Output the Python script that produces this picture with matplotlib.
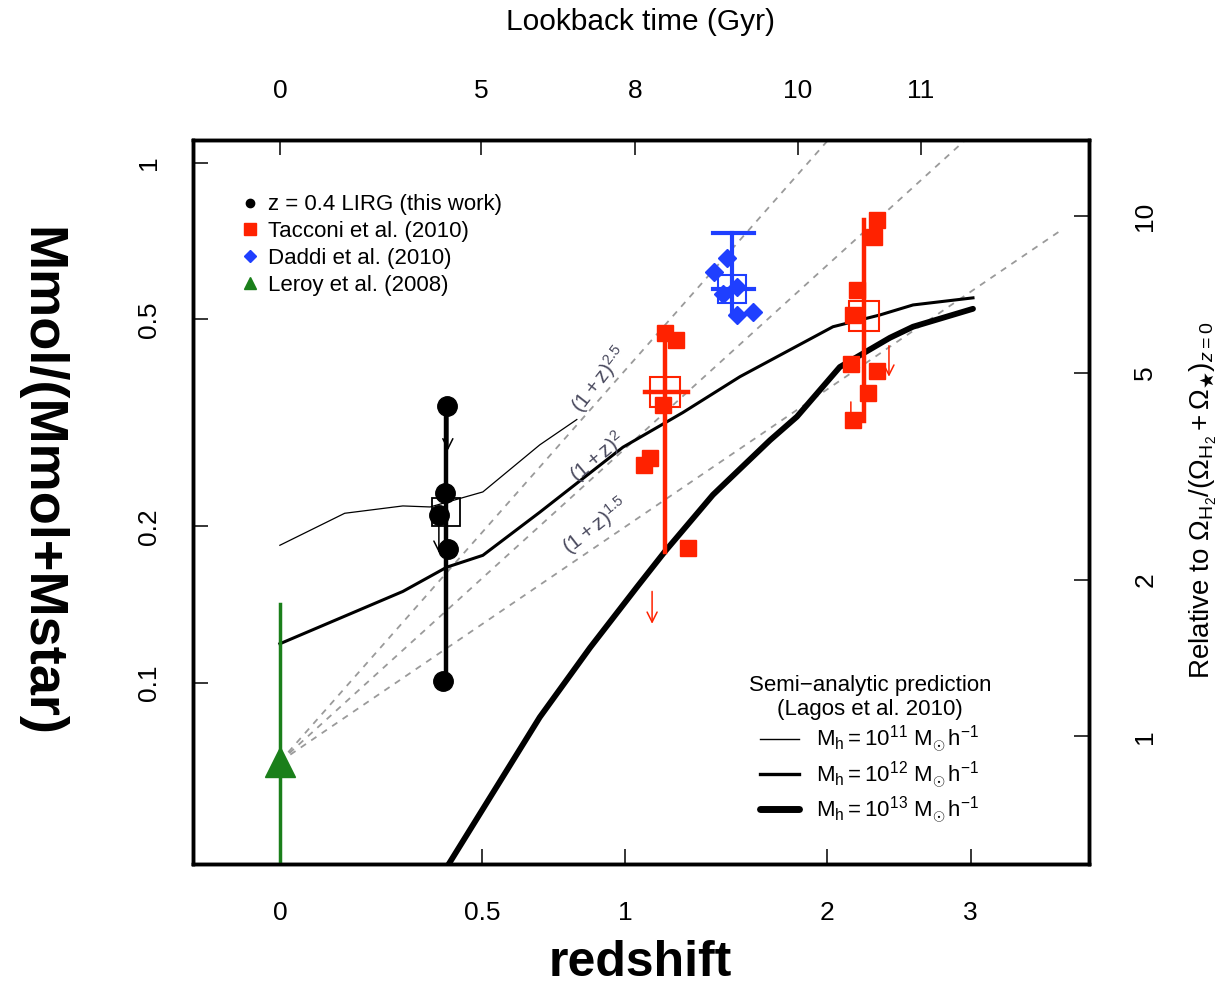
import numpy as np
import matplotlib.pyplot as plt
from matplotlib.lines import Line2D
from matplotlib.ticker import NullLocator

plt.rcParams['font.family'] = ['Liberation Sans', 'DejaVu Sans']
plt.rcParams['mathtext.fontset'] = 'custom'
plt.rcParams['mathtext.rm'] = 'Liberation Sans'
plt.rcParams['mathtext.it'] = 'Liberation Sans:italic'
plt.rcParams['mathtext.bf'] = 'Liberation Sans:bold'
plt.rcParams['mathtext.sf'] = 'Liberation Sans'

#---------------------- data ----------------------
# z = 0.4 LIRGs (this work)
lirg_z = [0.398, 0.393, 0.376, 0.401, 0.387]
lirg_f = [0.341, 0.232, 0.210, 0.181, 0.101]
lirg_med = (0.396, 0.213)
lirg_range = (0.101, 0.341)
lirg_lim_z = [0.401, 0.376]
lirg_lim_top = [0.330, 0.205]
lirg_lim_bot = [0.280, 0.178]

# Tacconi et al. (2010), z ~ 1.2
tac1_z = [1.166, 1.214, 1.158, 1.102, 1.076, 1.268]
tac1_f = [0.471, 0.457, 0.342, 0.271, 0.263, 0.182]
tac1_med = (1.166, 0.363)
tac1_range = (0.179, 0.471)
tac1_zrange = (1.080, 1.268)
tac1_lim_z = [1.111]
tac1_lim_top = [0.150]
tac1_lim_bot = [0.130]

# Tacconi et al. (2010), z ~ 2.3
tac2_z = [2.315, 2.296, 2.185, 2.159, 2.146, 2.315, 2.256, 2.159]
tac2_f = [0.777, 0.721, 0.570, 0.510, 0.411, 0.398, 0.361, 0.321]
tac2_med = (2.230, 0.508)
tac2_range = (0.319, 0.777)
tac2_lim_z = [2.396, 2.146]
tac2_lim_top = [0.445, 0.347]
tac2_lim_bot = [0.388, 0.307]

# Daddi et al. (2010), z ~ 1.5
dad_z = [1.453, 1.389, 1.503, 1.433, 1.503, 1.585]
dad_f = [0.657, 0.617, 0.577, 0.560, 0.510, 0.517]
dad_med = (1.478, 0.573)
dad_range = (0.510, 0.733)
dad_zrange = (1.385, 1.590)

# Leroy et al. (2008), z = 0
ler_z = 0.0
ler_f = 0.0706
ler_range = (0.03, 0.142)

# (1+z)^n scalings from the z=0 value
powers = [2.5, 2.0, 1.5]
pow_z = [0.0, 3.8]
pow_label_z = [0.901, 0.893, 0.882]
pow_label_f = [0.383, 0.271, 0.200]
pow_label_rot = [52, 40, 38]

# Lagos et al. (2010) semi-analytic predictions
m11_z = [0, 0.139, 0.280, 0.352, 0.503, 0.685, 0.815]
m11_f = [0.184, 0.212, 0.219, 0.218, 0.233, 0.287, 0.321]
m12_z = [0, 0.280, 0.398, 0.503, 0.685, 0.991, 1.245, 1.518, 2.035, 2.336, 2.564, 3.020]
m12_f = [0.119, 0.150, 0.167, 0.176, 0.213, 0.284, 0.331, 0.388, 0.484, 0.510, 0.533, 0.550]
m13_z = [0.393, 0.685, 0.864, 1.048, 1.166, 1.385, 1.675, 1.823, 2.077, 2.403, 2.564, 3.020]
m13_f = [0.0437, 0.0860, 0.117, 0.153, 0.179, 0.230, 0.293, 0.325, 0.405, 0.461, 0.484, 0.524]

# axes
z_ticks = [0, 0.5, 1, 2, 3]
z_ticklabels = ['0', '0.5', '1', '2', '3']
lookback_z = [0.0, 0.497, 1.040, 1.829, 2.622]
lookback_labels = ['0', '5', '8', '10', '11']
f_ticks = [0.1, 0.2, 0.5, 1]
f_ticklabels = ['0.1', '0.2', '0.5', '1']
rel_ticks = [1, 2, 5, 10]
rel_norm = 0.079
xlim = (-0.160, 4.074)
ylim = (0.0449, 1.106)

red = '#ff2200'
blue = '#1f3fff'
green = '#1a7f1a'
grey = '#9a9a9a'

def fwd(z):
    return np.log10(1 + np.asarray(z, dtype=float))

def inv(u):
    return 10 ** np.asarray(u, dtype=float) - 1

#---------------------- figure ----------------------
fig = plt.figure(figsize=(12.25, 9.89), dpi=100)
ax = fig.add_axes([193/1225, 1-864/989, 896/1225, 724/989])
ax.set_xscale('function', functions=(fwd, inv))
ax.set_yscale('log')

# power-law guide lines
for p, lz, lf, rot in zip(powers, pow_label_z, pow_label_f, pow_label_rot):
    zz = np.array(pow_z)
    ax.plot(zz, ler_f * (1 + zz) ** p, ls=(0, (3.5, 3.5)), color=grey, lw=1.3, zorder=1)
    lab = r'$\mathrm{(1+z)^{%s}}$' % ('2' if p == 2 else str(p))
    ax.text(lz, lf, lab, rotation=rot, color='#4a4a5e', fontsize=15,
            ha='center', va='center', rotation_mode='anchor')

# model curves
ax.plot(m11_z, m11_f, color='black', lw=0.9, zorder=2)
ax.plot(m12_z, m12_f, color='black', lw=2.2, zorder=2)
ax.plot(m13_z, m13_f, color='black', lw=4.2, zorder=2, solid_capstyle='round')

# Leroy
ax.plot([ler_z, ler_z], ler_range, color=green, lw=2.5, zorder=3)
ax.plot(ler_z, ler_f, ls='none', marker='^', ms=21, color=green, zorder=4)

# LIRGs
ax.plot([lirg_med[0]] * 2, lirg_range, color='black', lw=3.2, zorder=3)
ax.plot(lirg_z, lirg_f, ls='none', marker='o', ms=14, color='black', zorder=4)
ax.plot(*lirg_med, ls='none', marker='s', ms=20, mfc='none', mec='black', mew=1.3, zorder=5)

# Tacconi z~1.2
ax.plot([tac1_med[0]] * 2, tac1_range, color=red, lw=3.2, zorder=3)
ax.plot(tac1_zrange, [tac1_med[1]] * 2, color=red, lw=3.2, zorder=3)
ax.plot(tac1_z, tac1_f, ls='none', marker='s', ms=11, color=red, zorder=4)
ax.plot(*tac1_med, ls='none', marker='s', ms=21, mfc='none', mec=red, mew=1.5, zorder=5)

# Tacconi z~2.3
ax.plot([tac2_med[0]] * 2, tac2_range, color=red, lw=3.2, zorder=3)
ax.plot(tac2_z, tac2_f, ls='none', marker='s', ms=11, color=red, zorder=4)
ax.plot(*tac2_med, ls='none', marker='s', ms=21, mfc='none', mec=red, mew=1.5, zorder=5)

# Daddi
ax.plot([dad_med[0]] * 2, dad_range, color=blue, lw=3, zorder=3)
ax.plot(dad_zrange, [dad_range[1]] * 2, color=blue, lw=3, zorder=3)
ax.plot(dad_zrange, [dad_med[1]] * 2, color=blue, lw=3, zorder=3)
ax.plot(dad_z, dad_f, ls='none', marker='D', ms=9, color=blue, zorder=4)
ax.plot(*dad_med, ls='none', marker='s', ms=20, mfc='none', mec=blue, mew=1.5, zorder=5)

# upper limits
for zs, tops, bots, c in [(lirg_lim_z, lirg_lim_top, lirg_lim_bot, 'black'),
                          (tac1_lim_z, tac1_lim_top, tac1_lim_bot, red),
                          (tac2_lim_z, tac2_lim_top, tac2_lim_bot, red)]:
    for z, t, b in zip(zs, tops, bots):
        ax.annotate('', xy=(z, b), xytext=(z, t),
                    arrowprops=dict(arrowstyle='->', color=c, lw=1.1,
                                    mutation_scale=18, shrinkA=0, shrinkB=0),
                    zorder=6)

ax.set_xlim(*xlim)
ax.set_ylim(*ylim)
ax.set_xticks(z_ticks, z_ticklabels)
ax.set_yticks(f_ticks, f_ticklabels)
ax.xaxis.set_minor_locator(NullLocator())
ax.yaxis.set_minor_locator(NullLocator())
ax.tick_params(axis='both', direction='in', length=11, width=1.1, labelsize=19)
ax.tick_params(axis='x', pad=27)
ax.tick_params(axis='y', pad=23, labelrotation=90)
for t in ax.get_yticklabels():
    t.set_va('center')

# top axis: lookback time
axt = ax.twiny()
axt.set_xscale('function', functions=(fwd, inv))
axt.set_xlim(*xlim)
axt.set_xticks(lookback_z, lookback_labels)
axt.xaxis.set_minor_locator(NullLocator())
axt.tick_params(axis='x', direction='in', length=11, width=1.1, labelsize=19, pad=27)

# right axis: relative to z=0
axr = ax.twinx()
axr.set_yscale('log')
axr.set_ylim(ylim[0] / rel_norm, ylim[1] / rel_norm)
axr.set_yticks(rel_ticks, [str(r) for r in rel_ticks])
axr.yaxis.set_minor_locator(NullLocator())
axr.tick_params(axis='y', direction='in', length=11, width=1.1, labelsize=19, pad=32,
                labelrotation=90)
for t in axr.get_yticklabels():
    t.set_va('center')

for a in (ax, axt, axr):
    for s in a.spines.values():
        s.set_linewidth(2.4)

# legends
h1 = [Line2D([], [], ls='none', marker='o', color='black', ms=6),
      Line2D([], [], ls='none', marker='s', color=red, ms=8),
      Line2D([], [], ls='none', marker='D', color=blue, ms=6),
      Line2D([], [], ls='none', marker='^', color=green, ms=9)]
l1 = axr.legend(h1, ['z = 0.4 LIRG (this work)', 'Tacconi et al. (2010)',
                     'Daddi et al. (2010)', 'Leroy et al. (2008)'],
                loc='upper left', bbox_to_anchor=(0.054, 0.925), frameon=False,
                fontsize=16, borderpad=0, handlelength=0.8, handletextpad=0.4,
                labelspacing=0.26, borderaxespad=0)
axr.add_artist(l1)

h2 = [Line2D([], [], color='black', lw=1.0),
      Line2D([], [], color='black', lw=2.4),
      Line2D([], [], color='black', lw=5.0, solid_capstyle='round')]
lab2 = [r'$\mathrm{M_h = 10^{11}\ M_{\odot}\,h^{-1}}$',
        r'$\mathrm{M_h = 10^{12}\ M_{\odot}\,h^{-1}}$',
        r'$\mathrm{M_h = 10^{13}\ M_{\odot}\,h^{-1}}$']
l2 = axr.legend(h2, lab2, loc='lower left', bbox_to_anchor=(0.62, 0.053),
                frameon=False, fontsize=16, borderpad=0, handlelength=1.75,
                handletextpad=0.8, labelspacing=0.16, borderaxespad=0,
                title='Semi\u2212analytic prediction\n(Lagos et al. 2010)',
                title_fontsize=16)
l2.get_title().set_multialignment('center')

# axis titles
fig.text(641/1225, 1-22/989, 'Lookback time (Gyr)', fontsize=21.5, ha='center', va='center')
fig.text(640/1225, 1-976/989, 'redshift', fontsize=36, fontweight='bold',
         ha='center', va='baseline')
fig.text(40/1225, 1-482/989, 'Mmol/(Mmol+Mstar)', fontsize=39, fontweight='bold',
         rotation=-90, ha='center', va='center')
fig.text(1203/1225, 1-500/989,
         r'Relative to $\Omega_{\mathrm{H_2}}/(\Omega_{\mathrm{H_2}}+\Omega_{\bigstar})_{z=0}$',
         fontsize=20, rotation=90, ha='center', va='center')

fig.savefig('out.png', dpi=100)
